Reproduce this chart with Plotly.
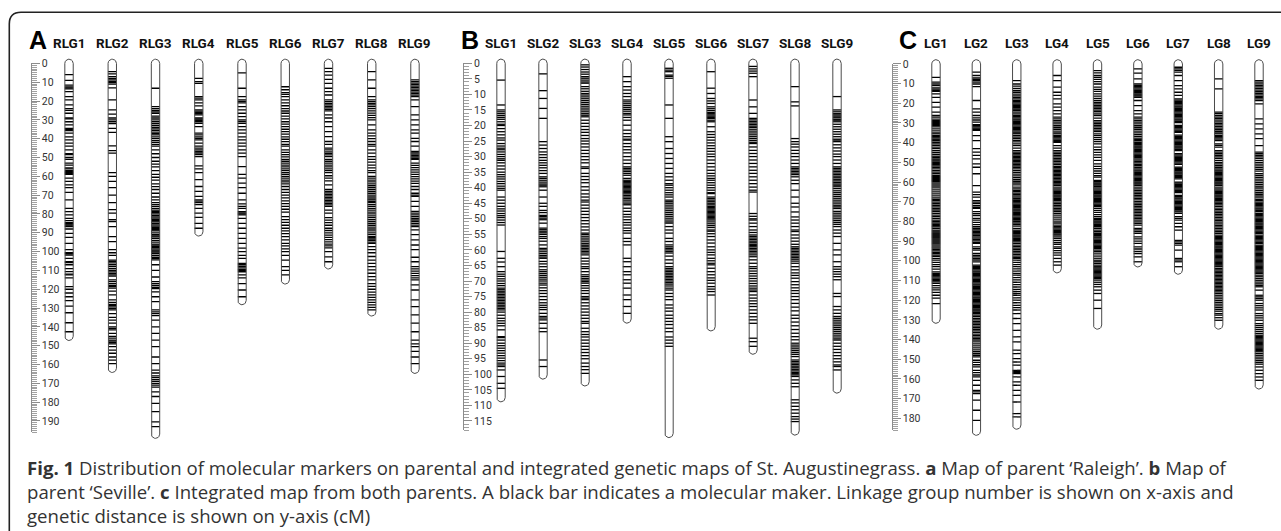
import math
import plotly.graph_objects as go

W, H = 1281, 531

# ---------------- Panel A : map of parent 'Raleigh' (cM) ----------------
RLG_NAMES = ["RLG1", "RLG2", "RLG3", "RLG4", "RLG5", "RLG6", "RLG7", "RLG8", "RLG9"]
RLG_LENGTHS = [145, 162, 197, 89.5, 126, 115, 107, 132, 162.5]
RLG1 = [6, 9, 11.5, 12.5, 13, 13.5, 15, 17.7, 19.4, 22, 24, 25, 26.5, 29, 29.5, 31, 32.7, 34.5, 35, 35.7, 37, 39,
        40.6, 42.4, 44, 46, 48, 48.5, 50, 51, 53, 54, 55.5, 56, 57, 57.5, 58, 58.5, 59, 61, 62.7, 64.5, 66, 68.5,
        72.5, 77, 78.8, 80.5, 82.3, 83.5, 84.6, 85.2, 85.8, 86.3, 86.7, 88, 90.3, 92.4, 95.6, 99, 100.6, 101, 101.8,
        103.6, 105.4, 105.8, 107, 109, 110.6, 112, 112.4, 114, 118.6, 120, 122, 124, 126, 129, 132.5, 137.8, 142.6]
RLG2 = [4.4, 5.6, 7, 8, 8.8, 9.5, 10.2, 11, 13, 19.4, 24.7, 27, 29, 30, 31, 32, 34.5, 36.7, 43.8, 46.3, 47.7, 58,
        60, 62.7, 66, 70, 74, 77.7, 79.6, 83, 84, 86.7, 92, 94.7, 99, 100.6, 102, 104.5, 105.2, 106, 107, 108, 109,
        110, 110.8, 111.6, 112.4, 113, 115, 116, 117, 118, 118.6, 119.4, 121, 123, 125.6, 127, 128, 128.6, 129.4,
        130.2, 131, 133, 135, 136.4, 138, 140, 140.8, 141.6, 143.5, 145, 146, 147, 147.6, 148.4, 149, 150.5, 152.3,
        154, 156, 157.7, 159.5]
RLG3 = [13.2, 23, 24, 25, 25.8, 26.5, 28, 29, 30, 31, 32, 33, 34, 34.8, 35.6, 36.5, 37.3, 38, 39, 40, 41, 42, 43,
        44, 46, 48, 50, 52, 53.5, 55, 57, 59, 60.5, 62, 64, 65.5, 67, 69, 71, 72.5, 74, 75, 76, 77, 78, 78.6, 79.2,
        80, 80.8, 81.5, 82.2, 83, 83.6, 84.2, 85, 85.8, 86.5, 87.2, 87.8, 88.4, 89, 90, 91, 91.6, 92.2, 93, 94, 95,
        96, 96.6, 97.2, 97.8, 98.5, 99.2, 99.8, 100.3, 101, 102, 103, 103.6, 104.4, 107, 110, 113.5, 116, 117, 118,
        119, 119.7, 121.4, 124, 126.6, 131, 132, 133, 134, 136.4, 140, 143.5, 147, 150.5, 156, 159.5, 163, 164.5,
        166, 167, 168, 169, 170, 171, 172, 174.5, 177, 180.6, 185, 190.5, 193]
RLG4 = [8, 9.7, 10.6, 17.7, 18.5, 19.4, 21, 22.6, 24.7, 25.4, 26, 26.7, 27.4, 29, 29.6, 30.2, 30.9, 31.8, 33.6, 37,
        38, 39, 39.8, 40.6, 42.4, 44, 45, 46, 46.8, 47.6, 48.5, 49.5, 54.4, 56, 58, 61.8, 65.4, 68, 70.7, 72.5,
        73.2, 74, 75, 77, 79.6, 81.8, 85, 87.6]
RLG5 = [5, 13.2, 17.7, 19.4, 20.2, 21, 23, 24.7, 26.5, 28.3, 30, 30.8, 31.8, 33.6, 35.3, 37, 39, 40.6, 42.4, 44, 46,
        47.7, 49.5, 54.8, 59, 61, 63.6, 66, 69, 72.5, 74.6, 76, 77, 78.8, 79.4, 80, 80.5, 82.3, 85, 87.6, 90.3, 93,
        95.6, 98.2, 100, 102, 103.6, 106.3, 107, 107.8, 108.6, 109.4, 110, 110.7, 112.4, 114, 117, 120.4, 124]
RLG6 = [12.4, 14, 15.5, 16.5, 17.7, 19.4, 21, 22.5, 24, 25.3, 26.5, 28, 29.5, 31, 32.3, 33.6, 35, 36.3, 37.6, 39,
        40.3, 41.6, 43, 44, 46, 47.3, 48.5, 49.7, 51, 52, 53, 54, 55, 56, 57, 58, 59, 60, 61, 62, 63, 64, 65.4, 67,
        68.5, 70, 71.5, 73, 74.5, 76, 77.5, 79, 81.4, 83, 84.5, 86, 87.6, 89, 90.5, 92, 93.8, 95.6, 97, 98.5, 100,
        102, 104.5, 108, 110, 112.4]
RLG7 = [2.6, 4.4, 6.2, 8.5, 10.6, 13.2, 15, 16.8, 19.4, 20.3, 21.2, 22, 22.8, 23.6, 24.4, 25.2, 27.4, 29, 31, 33.6,
        36.2, 38.9, 41.5, 43, 45, 46, 47, 47.8, 48.6, 49.5, 51, 52, 53, 54, 55, 56, 57, 58, 59.7, 61, 62.4, 64.5,
        67, 68, 68.8, 69.6, 70.4, 71.2, 72, 72.8, 73.6, 74.4, 75.2, 76, 78, 79.6, 82, 83.3, 84.6, 86, 87.6, 88.8,
        90, 91.2, 92.4, 93.6, 94.8, 96, 97, 98, 100, 102.8, 105.4]
RLG8 = [4.4, 8.8, 13.2, 17.7, 19.4, 20.3, 21.2, 22, 23, 24, 25.2, 26.4, 27.6, 28.8, 30, 32.7, 35.3, 37, 38.5, 40,
        41.5, 43, 44, 46, 47.7, 49.5, 51, 52.5, 54, 55.5, 57, 58, 60, 61, 62, 63, 64, 65, 66, 67, 68, 69, 70, 71,
        72, 72.5, 73.3, 74, 75, 76, 77, 78, 79, 80, 81, 82, 83, 84, 85, 86, 87, 88, 89, 90, 91, 92, 92.6, 93.3, 94,
        95, 95.6, 97.4, 99, 100.6, 102.6, 104.5, 106.3, 108, 109.7, 111.5, 113.3, 115, 117, 118.5, 120, 121.5, 123,
        124.3, 125.6, 127, 128.3, 129.6, 131]
RLG9 = [8.8, 9.7, 10.5, 11.3, 12.1, 12.9, 13.7, 14.5, 15.3, 16.1, 16.9, 17.7, 19.4, 23, 27.4, 30, 32.7, 35.3, 37,
        39.8, 41.5, 44, 46.8, 47.5, 48.2, 49, 49.7, 50.4, 51, 53, 54.2, 55.4, 56.6, 57.8, 59, 60.2, 61.4, 62.6, 63.8,
        65.4, 67, 69, 70, 70.7, 73.3, 76, 78.6, 79.6, 80.5, 81.4, 82.3, 83.2, 84.1, 85, 85.9, 86.7, 88.5, 91, 93.8,
        96.5, 99, 103, 105.4, 108, 109.2, 110.4, 111.6, 112.8, 114, 115, 117.7, 120.4, 125.6, 129.2, 133.6, 138,
        142.6, 147, 149, 150.5, 153, 156, 159.5]

# ---------------- Panel B : map of parent 'Seville' (cM) ----------------
SLG_NAMES = ["SLG1", "SLG2", "SLG3", "SLG4", "SLG5", "SLG6", "SLG7", "SLG8", "SLG9"]
SLG_LENGTHS = [107.5, 100.2, 102.4, 82.2, 119, 84.7, 92.2, 118.2, 104.7]
SLG1 = [5.4, 13.4, 15, 15.6, 16.2, 16.8, 17.4, 18, 18.8, 19.6, 20, 21, 22, 23, 24, 24.7, 25.8, 26.6, 27.3, 27.8,
        28.5, 29.3, 30, 30.7, 31.2, 32, 33, 34, 35, 35.8, 36.5, 37.2, 38, 38.7, 39.5, 40.2, 40.8, 43, 44, 45, 46,
        46.8, 47.5, 48.3, 49, 49.6, 50.4, 51.2, 52, 60.5, 62.7, 63.9, 65.4, 67, 67.8, 68.5, 69.3, 70, 70.8, 71.5,
        72.3, 72.8, 73.3, 73.8, 74.3, 74.8, 75.3, 75.8, 76.3, 76.8, 77.3, 77.8, 78.3, 78.8, 79.3, 80, 81, 82, 82.8,
        83.6, 84.4, 85.7, 87.9, 88.2, 89, 90, 90.8, 91.6, 92.4, 93.2, 94, 94.8, 95.6, 96.4, 97, 97.5, 98.6, 100.7,
        102.9, 104.5]
SLG2 = [3.4, 8.8, 11.3, 14.5, 17.7, 25.2, 26.3, 27.4, 28.5, 29.4, 30.3, 31.2, 32, 32.8, 33.6, 34.5, 35.4, 36.5,
        37, 37.6, 38.2, 38.8, 39.2, 39.7, 40.8, 43, 45, 46, 47.3, 48, 48.9, 49.3, 49.8, 50.3, 51.4, 53, 53.5, 54,
        54.5, 55, 55.7, 56.3, 57.2, 58.4, 59.5, 60, 60.6, 61.2, 61.8, 62.3, 62.7, 63.7, 64.5, 65.4, 66.4, 67, 67.6,
        68.2, 68.8, 69.4, 70, 70.7, 71.3, 72.2, 73.1, 74, 75, 76, 77, 77.8, 78.5, 79.2, 80.4, 81.4, 81.9, 82.5,
        83.6, 85.2, 86.3, 95.4, 97.5]
SLG3 = [0.5, 1.2, 2, 2.8, 3.5, 4.3, 4.8, 5.4, 6, 6.4, 7.5, 8.2, 9, 9.7, 10.2, 10.8, 11.4, 12, 12.6, 13.2, 13.8,
        14.4, 15, 15.6, 16.2, 16.7, 17.2, 18.3, 19.3, 20.3, 21.3, 22.2, 23.2, 24.2, 25, 25.9, 26.9, 28, 29, 30, 31,
        32, 33.3, 33.8, 35.4, 36.4, 37.4, 38.4, 39.7, 40.8, 42, 43, 44, 44.6, 45.6, 46.6, 47.6, 48.6, 49.6, 50.6,
        51.6, 52.6, 53.6, 54.6, 55, 55.6, 56.2, 56.8, 57.4, 58, 58.5, 59, 59.5, 60, 60.5, 61, 61.6, 62.7, 63.6,
        64.5, 65.4, 66, 67, 68, 68.6, 69.2, 69.7, 70.2, 70.7, 71.5, 72.3, 73.1, 74, 75, 75.5, 76, 77, 78, 79, 80,
        81, 82, 83, 83.6, 85.2, 86.3, 87.2, 88, 89, 90, 91, 92, 93, 94, 95, 96.4, 97.5, 98.5, 99.7]
SLG4 = [4.3, 5.9, 7.5, 8.6, 9.7, 10.7, 11.8, 12.4, 13, 13.6, 14.2, 14.8, 15.4, 16.1, 16.6, 17.4, 18.3, 19.9, 21.5,
        22.6, 23.6, 24.4, 24.7, 25.8, 26.8, 27.8, 28.8, 30, 31.1, 32.2, 33.3, 33.8, 34.3, 34.8, 35.4, 36, 37, 37.6,
        38, 38.4, 38.8, 39.2, 39.6, 40, 40.4, 40.8, 41.2, 41.6, 42, 42.5, 43, 43.5, 44, 44.6, 45.2, 45.5, 46.6,
        47.6, 48.6, 49.4, 50.3, 51.2, 52, 53, 53.8, 54.6, 56.3, 57.3, 58.4, 62.7, 63.8, 65.4, 67, 68, 69.6, 70.7,
        72.3, 74.5, 76, 78.2, 80.4]
SLG5 = [1.6, 2.2, 2.7, 3.8, 4.2, 4.8, 13.4, 17.7, 23.6, 25.2, 27.4, 29, 30.6, 32.2, 33.8, 35.4, 36.5, 37.6, 38.7,
        39.2, 40, 40.8, 41.6, 42.3, 43, 44, 44.5, 45, 45.6, 46.2, 46.8, 47.4, 48, 48.6, 49.2, 49.8, 50.4, 51, 51.4,
        52.5, 53.6, 54.6, 56.3, 57.3, 58.4, 59, 59.5, 60, 60.5, 61, 62, 63.2, 64.3, 65.4, 66, 66.5, 67, 67.5, 68,
        68.5, 69, 69.5, 70, 70.5, 71, 71.6, 72.3, 72.9, 74, 75, 76, 77.7, 78.7, 79.7, 81, 82, 83, 84, 85.2, 86.3,
        88, 89, 90, 91]
SLG6 = [2.7, 8, 9.7, 11.3, 12.1, 12.9, 14, 14.6, 15.2, 15.8, 16.2, 16.6, 17, 17.4, 17.7, 18.3, 18.8, 20.4, 22,
        22.9, 23.8, 24.7, 25.6, 26.5, 27.4, 28.3, 29.2, 30, 31.1, 32.2, 33.3, 34.4, 35.4, 36.2, 37, 37.6, 38.4,
        39.2, 40, 40.8, 41.6, 41.9, 43, 43.5, 44, 44.5, 45, 45.5, 46, 46.4, 46.8, 47.2, 47.6, 48, 48.4, 48.8, 49.2,
        49.6, 50, 50.4, 51, 51.6, 52.2, 52.8, 53.6, 54, 54.8, 55.7, 56.8, 57.8, 59, 60, 60.8, 61.6, 62.7, 63.5,
        64.3, 64.8, 65.9, 67, 68, 69, 69.8, 70.7, 71.8, 72.6, 73.4, 74.5]
SLG7 = [1, 1.8, 2.5, 3.2, 4.3, 11.8, 14, 16.1, 17.7, 18.2, 18.7, 19.2, 19.7, 20.2, 20.6, 21.2, 21.8, 22.4, 23,
        23.6, 24.2, 24.8, 25.4, 25.8, 26.9, 28, 29, 30, 31.1, 32.2, 33.3, 34.4, 35.4, 36.5, 37.6, 38.7, 39.8, 40.8,
        41.4, 48.3, 49.2, 50, 50.4, 51.4, 52.5, 53.6, 54.4, 55.2, 55.7, 56.2, 56.7, 57.2, 57.7, 58.2, 58.6, 59,
        59.5, 60, 60.5, 61, 61.6, 62.2, 63.2, 64.3, 65.4, 66, 66.8, 67.6, 68.4, 69.2, 70, 70.8, 71.6, 72.3, 72.9,
        73.4, 74.5, 75.5, 76.4, 77.3, 78.2, 79.3, 80.4, 81.5, 82.5, 83.6, 88.4, 89.5, 91]
SLG8 = [7.5, 12.4, 13.7, 24.2, 25.2, 26, 26.9, 28, 29, 30, 31.1, 32.2, 33.3, 33.8, 34.3, 34.8, 35.3, 35.8, 36.5,
        37.6, 38.7, 40.8, 43, 45, 46.2, 47.8, 49.4, 50.4, 51.4, 52.5, 53.6, 54.1, 55.2, 56.2, 57.2, 58.2, 59, 59.5,
        60, 60.5, 61, 61.5, 62, 62.5, 63, 63.6, 64.3, 65.4, 66.4, 67.4, 68.2, 69.1, 70.2, 71.2, 72.2, 73.1, 74, 75,
        76, 77.2, 78.4, 79.6, 81, 82, 83.2, 84.4, 85.6, 86.8, 87.9, 88.9, 90, 90.6, 91.2, 91.8, 92.4, 93, 93.6,
        94.3, 95.4, 95.9, 96.4, 96.9, 97.4, 97.9, 98.4, 98.9, 99.4, 99.8, 100.2, 100.7, 101.8, 102.9, 104, 108.2,
        109.2, 110.3, 111.4, 112.5, 113.6, 114.4, 115.2]
SLG9 = [10.7, 15, 15.6, 16.2, 16.6, 17, 17.5, 18, 18.3, 18.8, 19.6, 20.4, 21.2, 22, 22.8, 23.6, 24.4, 24.7, 25.2,
        26.2, 27.2, 28.2, 29.2, 30, 31.1, 32.2, 33.3, 33.8, 34.3, 34.8, 35.3, 35.8, 36.3, 36.8, 37.3, 37.8, 38.3,
        38.8, 39.2, 39.7, 40.3, 41, 41.6, 42.2, 42.8, 43.4, 44, 44.6, 45.2, 45.8, 46.2, 46.7, 47.6, 48.2, 48.8,
        49.4, 50, 50.6, 51.2, 51.8, 52.5, 53.6, 54.6, 55.7, 57.9, 60, 61.6, 63.8, 65.4, 66.2, 67, 67.8, 68.6, 69.6,
        74, 75, 78.2, 79.3, 80.4, 81.4, 82, 82.6, 83.2, 83.8, 84.4, 85, 85.6, 86.2, 86.8, 87.4, 88, 88.6, 89, 90,
        91, 92, 93, 94, 95, 96, 97, 97.5, 98.6]

# ---------------- Panel C : integrated map (cM) ----------------
LG_NAMES = ["LG1", "LG2", "LG3", "LG4", "LG5", "LG6", "LG7", "LG8", "LG9"]
LG_LENGTHS = [129.6, 186.5, 183.4, 104, 132.6, 101, 104.7, 132.6, 163]
LG1 = [6.8, 9.3, 10.2, 11, 12.2, 12.8, 13.4, 13.9, 15.2, 17, 19.5, 22, 24.5, 26.2, 27, 28, 28.8, 29.3, 29.8, 30.3,
       30.8, 31.3, 32, 33, 34, 35, 35.5, 36.4, 37, 37.6, 38.2, 38.6, 39, 39.8, 40.6, 41.4, 42.3, 43, 44, 45, 46,
       46.8, 47.4, 48.2, 48.8, 49.4, 50, 50.6, 51.2, 51.8, 52.5, 53.3, 54.2, 55, 55.8, 56.7, 57.2, 57.7, 58.2,
       58.7, 59.2, 59.6, 60, 61, 62, 63, 64, 65, 66, 67, 68, 68.8, 69.4, 70.2, 71, 71.8, 72.6, 73.4, 74.2, 75,
       75.9, 76.8, 77.6, 78.5, 79.3, 80, 80.8, 81.5, 82.2, 82.8, 83.5, 84.4, 84.9, 85.4, 85.9, 86.4, 86.9, 87.4,
       87.9, 88.4, 88.9, 89.4, 89.9, 90.4, 90.9, 91.4, 92, 92.9, 93.6, 94.3, 95, 95.7, 96.4, 97.1, 97.8, 98.8,
       99.7, 100.8, 101.9, 103, 104.2, 105.6, 106.4, 107, 107.6, 108.2, 108.8, 109.4, 110, 110.7, 111.5, 112.6,
       113.7, 114.8, 116, 117.5, 119, 121.7]
LG2 = [4.2, 5.9, 7.1, 7.8, 8.5, 9.3, 10.2, 11.5, 18.6, 22.8, 24.5, 26.2, 27.4, 28.5, 29.6, 30.8, 31.4, 32, 32.6,
       33.2, 33.8, 36.4, 39, 43, 44.8, 46.5, 48.2, 50.8, 52.5, 55.8, 61.8, 65.1, 66.4, 67.7, 69.4, 70.2, 71, 72,
       72.8, 73.4, 75, 76, 77, 78.5, 79.3, 80.5, 81.6, 82.7, 83.6, 84.3, 85, 85.7, 86.4, 87.1, 87.8, 88.5, 89.2,
       89.9, 90.6, 91.2, 92.9, 93.8, 94.6, 96.3, 97.2, 98, 98.8, 99.6, 100.5, 102.2, 102.8, 103.4, 104, 104.6,
       105.2, 105.8, 106.4, 107, 107.6, 108.2, 108.8, 109.4, 110, 110.6, 111.2, 111.8, 112.4, 113, 113.6, 114.2,
       114.8, 115.4, 116, 116.6, 117.2, 117.8, 118.4, 119, 119.6, 120.2, 120.8, 121.4, 122, 122.6, 123.2, 123.8,
       124.4, 125, 125.6, 126.2, 126.8, 127.6, 128.4, 129.2, 130, 130.8, 131.6, 132.4, 133.2, 134, 134.8, 135.6,
       136.4, 137.2, 138, 138.8, 139.6, 140.3, 141.2, 142.2, 143.2, 144.2, 145.2, 146.2, 147.2, 148, 148.8, 150.5,
       151.6, 152.8, 153.9, 155.6, 156.8, 158, 159, 160.7, 163.2, 165.8, 166.6, 167.5, 170.8, 175.9, 181]
LG3 = [8.5, 10.2, 11.3, 12.4, 13.5, 14.4, 15.3, 16.2, 17, 17.8, 18.6, 19.2, 19.8, 20.4, 21, 21.6, 22.2, 22.8, 23.4,
       23.7, 24.5, 25.4, 26.2, 26.8, 27.4, 28, 28.6, 29.2, 29.8, 30.4, 31, 31.6, 32.2, 32.8, 33.4, 34, 34.6, 35.2,
       35.5, 36.4, 37.2, 38, 38.8, 39.6, 40.6, 41.5, 42.8, 44, 44.8, 45.5, 46.2, 46.9, 47.6, 48.3, 49, 49.7, 50.4,
       51.1, 51.8, 52.5, 53.3, 54.2, 55.1, 56, 56.9, 57.8, 58.7, 59.6, 60.5, 61.4, 62.6, 63.5, 64.2, 64.9, 65.6,
       66.3, 67, 67.7, 68.4, 69.1, 69.4, 70, 70.6, 71.2, 71.8, 72.4, 73, 73.6, 74.2, 74.8, 75.4, 76, 76.6, 77.2,
       77.8, 78.4, 79, 79.3, 80, 80.8, 81.6, 82.4, 83.5, 84.4, 85, 85.6, 86.2, 86.8, 87.4, 88, 88.6, 89.2, 89.8,
       90.4, 91.2, 92, 92.8, 93.6, 94.4, 95.2, 96, 96.8, 97.6, 98.4, 98.8, 99.7, 100.8, 101.9, 103, 104.1, 105.2,
       106.4, 107.3, 108.5, 109.7, 110.9, 112.1, 113.3, 114.5, 115.6, 116.6, 117.5, 118.8, 120, 121.3, 122.6,
       123.8, 125, 126.8, 129.3, 131.9, 135.3, 138.6, 141.2, 145.4, 147.1, 149.7, 151.4, 153, 155.6, 156.2, 156.8,
       157.3, 159, 161.5, 163.2, 165.8, 168.3, 171.7, 177.6, 179.3]
LG4 = [5.9, 8.5, 11.8, 14.4, 16, 17.8, 20.3, 22, 23.7, 25.4, 27, 27.9, 28.8, 29.6, 30.5, 31.4, 32.3, 33.2, 34.1,
       35, 35.5, 36.4, 37, 37.6, 38.2, 38.8, 39.4, 39.8, 41.5, 42.8, 44, 44.8, 45.6, 46.4, 47.2, 48, 48.8, 49.6,
       50.4, 51.2, 52, 52.5, 53.3, 54, 54.7, 55.4, 56.1, 56.8, 57.5, 58.2, 58.9, 59.6, 60.3, 61, 61.7, 62.6, 63.5,
       64.1, 64.7, 65.3, 65.9, 66.5, 67.1, 67.7, 68.3, 68.9, 69.4, 70.2, 71, 71.8, 72.6, 73.4, 74.2, 75, 75.9,
       76.8, 77.8, 78.8, 79.8, 80.8, 81.9, 82.7, 83.3, 83.9, 84.5, 85.1, 85.7, 86.3, 86.9, 87.8, 88.6, 89.6, 90.6,
       91.6, 92.9, 93.7, 94.8, 96, 97.1, 98.8, 100.5, 102.2]
LG5 = [3.4, 4.6, 5.9, 6.8, 7.9, 9, 10.2, 11.8, 12.9, 14, 15.2, 16.4, 17.5, 18.6, 19.5, 20.3, 21.1, 21.9, 22.7, 23.5,
       24.3, 25.4, 26.2, 27.5, 28.8, 29.6, 30.4, 31.2, 32, 32.8, 33.6, 34.4, 35.5, 36.4, 37.4, 38.5, 39.5, 40.6,
       42.3, 43.6, 44.9, 46.2, 47.5, 49, 50.8, 52, 53.2, 54.4, 55.6, 56.7, 57.5, 59.2, 59.8, 60.4, 61, 61.6, 62.2,
       62.6, 63.5, 64.1, 64.7, 65.3, 65.9, 66.5, 67.1, 67.7, 68.3, 68.9, 69.4, 70, 70.6, 71.2, 71.8, 72.5, 73.4,
       74.4, 75.4, 76.5, 77.6, 78.5, 79.1, 79.7, 80.3, 80.9, 81.5, 82.1, 82.7, 83.5, 84.4, 85.2, 86, 86.6, 87.2,
       87.8, 88.4, 89, 89.6, 90.2, 90.8, 91.4, 92, 92.6, 93.2, 93.8, 94.6, 95.4, 96.5, 97.6, 98.7, 99.7, 100.5,
       101.3, 102.2, 103, 103.6, 104.2, 104.8, 105.4, 106, 106.6, 107.2, 107.8, 108.4, 109, 109.8, 110.9, 112,
       113.2, 114.9, 116.6, 120, 124.2]
LG6 = [2.5, 4.7, 7.6, 10.2, 11, 11.6, 12.2, 12.8, 13.4, 14, 14.6, 15.2, 15.8, 16.4, 17, 18.6, 21.2, 23.7, 25.4, 27,
       27.9, 28.8, 29.6, 30.5, 31.4, 32.3, 33.2, 34.1, 35, 35.9, 36.8, 37.7, 38.4, 39, 39.8, 40.4, 41, 41.6, 42.2,
       42.8, 43.4, 44, 44.6, 45.2, 45.8, 46.4, 47, 47.4, 48.2, 48.9, 49.6, 50.3, 51, 51.7, 52.5, 53.3, 53.9, 54.5,
       55.1, 55.7, 56.3, 56.9, 57.5, 58.1, 58.7, 59.3, 59.9, 60.5, 61.1, 61.7, 62.6, 63.5, 64.3, 65.1, 65.9, 66.7,
       67.5, 68.3, 69.1, 69.9, 70.7, 71.5, 72.3, 73.1, 73.9, 74.7, 75.5, 76.3, 77.1, 77.8, 78.6, 79.3, 80.2, 81,
       81.9, 83.5, 84.3, 85.1, 86, 87.8, 88.9, 90, 91.2, 92.9, 94, 95.2, 96.3, 98, 100.5]
LG7 = [1.7, 2.5, 3.3, 4.2, 5.9, 8.5, 11, 12.7, 14.4, 16, 17.8, 18.4, 19, 19.6, 20.2, 20.8, 21.4, 22, 22.6, 23.2,
       23.8, 24.4, 25, 25.6, 26.2, 26.8, 27.4, 28, 28.6, 29.2, 29.8, 31.2, 31.8, 32.4, 33, 33.6, 34.2, 34.8, 36.2,
       36.8, 37.4, 38, 38.6, 39.2, 39.8, 40.4, 41, 41.6, 42.2, 42.8, 43.4, 44, 45.6, 46.2, 46.8, 47.4, 48, 48.6,
       49.2, 49.8, 50.4, 51, 52.4, 53, 53.6, 54.2, 54.8, 55.4, 56, 56.6, 57.2, 57.8, 58.4, 60, 60.6, 61.2, 61.8,
       62.4, 63, 63.6, 64.2, 64.8, 65.4, 66.8, 67.4, 68, 68.6, 69.2, 69.8, 70.4, 71, 71.6, 72.2, 72.8, 73.4, 74,
       74.6, 75.2, 75.9, 77.6, 78.5, 79.3, 81, 82.7, 84.4, 89.6, 90.4, 91.2, 92, 94.6, 98.8, 99.6, 100.5, 103]
LG8 = [7.6, 12.7, 24.5, 25.3, 26.2, 27, 27.8, 28.6, 29.4, 30.2, 31, 31.8, 32.6, 33.4, 34.2, 35, 35.5, 36.4, 37,
       37.6, 38.2, 39, 40.6, 41.4, 42.3, 44, 44.8, 45.6, 46.4, 47.2, 48, 49, 50, 50.8, 51.6, 52.5, 53.3, 53.9,
       54.5, 55.1, 55.7, 56.3, 56.9, 57.5, 58.1, 58.7, 59.3, 59.9, 60.5, 61.1, 61.7, 62.6, 63.5, 64.1, 64.7, 65.3,
       65.9, 66.5, 67.1, 67.7, 68.3, 68.9, 69.5, 70.2, 70.9, 71.6, 72.4, 73.2, 74, 74.8, 75.6, 76.4, 77.2, 78,
       78.8, 79.6, 80.4, 81.2, 82, 82.8, 83.6, 84.4, 85.2, 86, 87, 87.6, 88.2, 88.8, 89.4, 90, 90.6, 91.2, 91.8,
       92.4, 93, 93.6, 94.2, 94.8, 95.4, 96, 96.6, 97.2, 97.8, 98.4, 99, 99.6, 100.2, 100.8, 101.4, 102, 102.6,
       103, 103.9, 104.6, 105.3, 106, 106.7, 107.4, 108.1, 108.8, 109.5, 110.2, 110.9, 111.6, 112.3, 113, 113.7,
       114.4, 115.1, 115.8, 116.6, 117.5, 118.4, 119.3, 120.2, 121.1, 122, 122.9, 123.8, 124.7, 125.6, 126.8,
       127.6, 128.9, 130.2]
LG9 = [8.5, 9.3, 10.1, 10.9, 11.7, 12.5, 13.3, 14.1, 14.9, 15.7, 16.5, 17, 17.8, 18.6, 20.3, 27.9, 30.5, 33, 35.5,
       38, 41.5, 44.8, 45.6, 46.4, 47.2, 48, 49, 50, 50.9, 51.8, 52.7, 53.6, 54.5, 55.8, 56.7, 57.6, 58.5, 59.4,
       60.3, 61.2, 62.1, 62.6, 63.5, 64.4, 65.3, 66.2, 67.1, 68, 68.9, 69.4, 70.2, 70.8, 71.4, 72, 72.6, 73.2,
       73.8, 74.4, 75, 75.9, 76.5, 77.1, 77.7, 78.3, 78.9, 79.5, 80.1, 80.7, 81.3, 81.9, 82.5, 83.1, 83.7, 84.3,
       84.9, 85.5, 86, 87, 87.6, 88.2, 88.8, 89.4, 90, 90.6, 91.2, 92, 92.6, 93.2, 93.8, 94.4, 95, 95.6, 96.2,
       96.8, 97.4, 98, 98.6, 99.2, 99.8, 100.4, 101, 101.6, 102.2, 102.8, 103.4, 104, 104.6, 105.2, 105.8, 106.4,
       107.3, 108.1, 109, 109.9, 110.8, 111.7, 112.5, 113.2, 114.9, 117.5, 118.3, 119.1, 120, 121.7, 122.8,
       123.9, 125, 126.8, 127.9, 129, 130.2, 131.9, 132.9, 133.9, 134.9, 135.9, 136.9, 137.8, 138.4, 139, 139.6,
       140.2, 140.8, 141.4, 142, 142.6, 143.2, 143.8, 144.4, 145, 145.6, 146.2, 147.1, 148, 148.9, 149.8, 150.7,
       151.6, 152.5, 153.9, 155.6, 157.3, 159, 160.7]

CAPTION = [
    "<b>Fig. 1</b> Distribution of molecular markers on parental and integrated genetic maps of St. Augustinegrass. "
    "<b>a</b> Map of parent \u2018Raleigh\u2019. <b>b</b> Map of",
    "parent \u2018Seville\u2019. <b>c</b> Integrated map from both parents. A black bar indicates a molecular maker. "
    "Linkage group number is shown on x-axis and",
    "genetic distance is shown on y-axis (cM)",
]

# ---------------- layout geometry (pixels) ----------------
PANELS = [
    dict(letter="A", names=RLG_NAMES, lengths=RLG_LENGTHS,
         markers=[RLG1, RLG2, RLG3, RLG4, RLG5, RLG6, RLG7, RLG8, RLG9],
         xpx=(47.4, 436.6), zero=63.4, ppc=1.882, smax=196, dtick=10, sx=30.7, lx=38),
    dict(letter="B", names=SLG_NAMES, lengths=SLG_LENGTHS,
         markers=[SLG1, SLG2, SLG3, SLG4, SLG5, SLG6, SLG7, SLG8, SLG9],
         xpx=(480.0, 858.0), zero=63.3, ppc=3.11, smax=118, dtick=5, sx=463.0, lx=470),
    dict(letter="C", names=LG_NAMES, lengths=LG_LENGTHS,
         markers=[LG1, LG2, LG3, LG4, LG5, LG6, LG7, LG8, LG9],
         xpx=(915.8, 1279.2), zero=63.9, ppc=1.969, smax=186, dtick=10, sx=891.7, lx=908),
]

TOP_PX, BOT_PX = 50, 447
HALF_W_PX = 4.2
CAP_PX = 4.2

fig = go.Figure()
layout = dict(width=W, height=H, margin=dict(l=0, r=0, t=0, b=0), template="none",
              paper_bgcolor="white", plot_bgcolor="rgba(0,0,0,0)", showlegend=False)
annotations = []

LABEL_FONT = "Roboto, Liberation Sans, Arial, sans-serif"

for k, p in enumerate(PANELS, start=1):
    sfx = "" if k == 1 else str(k)
    ks = k + 3
    ppu = (p["xpx"][1] - p["xpx"][0]) / 9.0
    hw = HALF_W_PX / ppu
    h = CAP_PX / p["ppc"]

    ox, oy, mx, my = [], [], [], []
    for i, (L, marks) in enumerate(zip(p["lengths"], p["markers"])):
        cx = i
        ox += [cx - hw, cx - hw]
        oy += [0, L]
        n = 14
        for j in range(1, n):
            t = math.pi * j / n
            ox.append(cx - hw * math.cos(t))
            oy.append(L + h * math.sin(t))
        ox += [cx + hw, cx + hw]
        oy += [L, 0]
        for j in range(1, n):
            t = math.pi * j / n
            ox.append(cx + hw * math.cos(t))
            oy.append(-h * math.sin(t))
        ox += [cx - hw, None]
        oy += [0, None]
        for m in marks:
            mx += [cx - hw, cx + hw, None]
            my += [m, m, None]

    fig.add_trace(go.Scatter(x=mx, y=my, mode="lines", line=dict(color="black", width=1.3),
                             xaxis="x" + sfx, yaxis="y" + sfx, hoverinfo="skip"))
    fig.add_trace(go.Scatter(x=ox, y=oy, mode="lines", line=dict(color="#4a4a4a", width=1),
                             xaxis="x" + sfx, yaxis="y" + sfx, hoverinfo="skip"))

    layout["xaxis" + sfx] = dict(domain=[p["xpx"][0] / W, p["xpx"][1] / W], range=[-0.5, 8.5],
                                 visible=False, anchor="y" + sfx, fixedrange=True)
    layout["yaxis" + sfx] = dict(domain=[1 - BOT_PX / H, 1 - TOP_PX / H],
                                 range=[(BOT_PX - p["zero"]) / p["ppc"], (TOP_PX - p["zero"]) / p["ppc"]],
                                 visible=False, anchor="x" + sfx, fixedrange=True)

    # scale axis (genetic distance, cM)
    sbot = p["zero"] + p["ppc"] * p["smax"]
    fig.add_trace(go.Scatter(x=[0, 0], y=[0, p["smax"]], mode="markers", marker=dict(opacity=0),
                             xaxis="x%d" % ks, yaxis="y%d" % ks, hoverinfo="skip"))
    layout["xaxis%d" % ks] = dict(domain=[p["sx"] / W, (p["sx"] + 1) / W], visible=False,
                                  anchor="y%d" % ks, fixedrange=True)
    layout["yaxis%d" % ks] = dict(domain=[1 - sbot / H, 1 - p["zero"] / H], range=[p["smax"], 0],
                                  anchor="free", position=p["sx"] / W, side="right", color="#333333",
                                  showline=True, linecolor="#8c8c8c", linewidth=1,
                                  ticks="outside", ticklen=8, tickcolor="#8c8c8c", tickwidth=1,
                                  tick0=0, dtick=p["dtick"], showgrid=False, zeroline=False,
                                  tickfont=dict(family=LABEL_FONT, size=10.5, color="#333333"),
                                  minor=dict(dtick=1, tick0=0, ticks="outside", ticklen=5,
                                             tickcolor="#a0a0a0", tickwidth=1, showgrid=False),
                                  fixedrange=True)

    for i, name in enumerate(p["names"]):
        annotations.append(dict(x=i, y=1 - 43.5 / H, xref="x" + sfx, yref="paper", text="<b>%s</b>" % name,
                                showarrow=False, xanchor="center", yanchor="middle",
                                font=dict(family=LABEL_FONT, size=13.5, color="#111111")))
    annotations.append(dict(x=p["lx"] / W, y=1 - 39.5 / H, xref="paper", yref="paper",
                            text="<b>%s</b>" % p["letter"], showarrow=False, xanchor="center",
                            yanchor="middle", font=dict(family="Liberation Sans, Arial", size=25,
                                                        color="black")))

annotations.append(dict(x=25 / W, y=1 - 491.7 / H, xref="paper", yref="paper", text="<br>".join(CAPTION),
                        showarrow=False, xanchor="left", yanchor="middle", align="left",
                        font=dict(family="Open Sans, Noto Sans, sans-serif", size=18.6, color="#333333")))

layout["annotations"] = annotations


def px(x):
    return x / W


def py(y):
    return 1 - y / H


frame = "M %f,%f L %f,%f Q %f,%f %f,%f L %f,%f" % (
    px(9.3), py(545), px(9.3), py(24), px(9.3), py(12.3), px(21), py(12.3), px(1295), py(12.3))
layout["shapes"] = [dict(type="path", path=frame, xref="paper", yref="paper",
                         line=dict(color="#222222", width=1.6))]

fig.update_layout(**layout)
fig.write_html("out.html", config={"displayModeBar": False})
